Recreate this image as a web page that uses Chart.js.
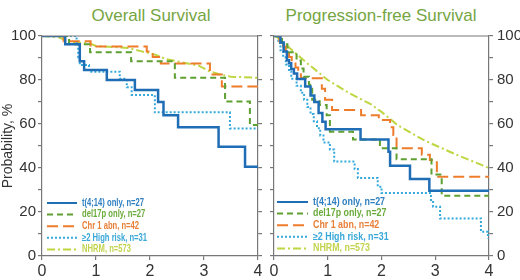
<!DOCTYPE html>
<html>
<head>
<meta charset="utf-8">
<script src="https://cdn.jsdelivr.net/npm/chart.js@4.4.1/dist/chart.umd.min.js"></script>
<style>
  html, body { margin: 0; padding: 0; background: #fff; }
  #wrap { position: relative; width: 520px; height: 280px; overflow: hidden; font-family: Arial, "Liberation Sans", sans-serif; }
  .ttl { position: absolute; top: 7px; font-size: 17px; line-height: 17px; color: #76a543; white-space: nowrap; transform: translateX(-50%); }
  #c1 { position: absolute; left: 0; top: 0; }
  #c2 { position: absolute; left: 266px; top: 0; }
</style>
</head>
<body>
<div id="wrap">
  <div class="ttl" style="left:151px">Overall Survival</div>
  <div class="ttl" style="left:381px">Progression-free Survival</div>
  <canvas id="c1" width="266" height="280" style="width:266px;height:280px"></canvas>
  <canvas id="c2" width="254" height="280" style="width:254px;height:280px"></canvas>
</div>
<script>
// series labels
const seriesLabels = ['t(4;14) only, n=27', 'del17p only, n=27', 'Chr 1 abn, n=42', '\u22652 High risk, n=31', 'NHRM, n=573'];
const xTicks = [0, 1, 2, 3, 4];
const yTicks = [0, 20, 40, 60, 80, 100];

// overall survival (years, %)
const osT414Time = [0, 0.43, 0.70, 0.78, 1.20, 1.72, 2.15, 2.25, 2.52, 3.27, 3.76, 4];
const osT414Surv = [100, 96.3, 88.5, 84.5, 80, 75.5, 70, 64, 58.5, 49.7, 40.6, 40.6];
const osDel17Time = [0, 0.50, 0.89, 1.65, 2.46, 3.39, 3.85, 4];
const osDel17Surv = [100, 96.3, 92.6, 88.5, 81, 70.2, 59.5, 59.5];
const osChr1Time = [0, 0.40, 0.90, 1.94, 2.05, 2.20, 3.11, 3.33, 4];
const osChr1Surv = [100, 97.6, 95.2, 92.9, 90.5, 87.5, 82.5, 77, 77];
const osHr2Time = [0, 0.64, 0.67, 0.70, 0.87, 1.44, 1.57, 1.66, 2.09, 3.48, 4];
const osHr2Surv = [100, 96.8, 90.3, 86.8, 83.8, 80.6, 76.7, 73.2, 65.3, 58, 58];
const osNhrmTime = [0, 0.3, 0.5, 0.9, 1.0, 1.6, 1.85, 2.1, 2.3, 2.6, 2.9, 3.1, 3.3, 3.5, 4];
const osNhrmSurv = [100, 99.5, 97.5, 96.5, 95.5, 94.5, 93, 91.5, 89.5, 88, 86.5, 84, 82.5, 81.5, 81];

// progression-free survival
const pfsT414Time = [0, 0.12, 0.18, 0.24, 0.28, 0.32, 0.37, 0.43, 0.58, 0.68, 0.75, 0.83, 0.90, 0.96, 1.61, 2.13, 2.16, 2.53, 2.89, 4];
const pfsT414Surv = [100, 97, 93, 89, 87.6, 85, 83, 80.5, 77, 73, 70, 65, 61, 57.6, 53, 47.4, 41, 35, 29.7, 29.7];
const pfsDel17Time = [0, 0.15, 0.25, 0.42, 0.50, 0.55, 0.65, 0.71, 0.85, 0.98, 1.04, 1.47, 1.97, 2.28, 2.93, 3.12, 4];
const pfsDel17Surv = [100, 96.3, 92.6, 88.9, 85.2, 81.5, 77.8, 71, 68.6, 64, 56.5, 53, 49, 44, 37, 27.4, 27.4];
const pfsChr1Time = [0, 0.10, 0.17, 0.22, 0.28, 0.33, 0.40, 0.45, 0.50, 0.89, 0.95, 1.08, 1.62, 1.95, 2.16, 2.22, 2.28, 2.75, 2.90, 3.03, 4];
const pfsChr1Surv = [100, 97.6, 95.2, 92.9, 90.5, 88.1, 85.7, 83.3, 80.8, 76, 71, 66.4, 64, 61.8, 58.5, 55, 49, 46, 43.6, 36, 36];
const pfsHr2Time = [0, 0.08, 0.12, 0.17, 0.22, 0.28, 0.32, 0.42, 0.50, 0.56, 0.62, 0.68, 0.74, 0.80, 0.86, 0.92, 1.04, 1.12, 1.50, 1.56, 1.93, 2.00, 2.92, 2.96, 3.09, 3.85, 3.98];
const pfsHr2Surv = [100, 96.8, 93.5, 90.3, 87.1, 83.9, 80.6, 77.4, 74.2, 71.0, 67.7, 64.5, 61.3, 58.1, 54.8, 51.6, 48.4, 42.9, 39.5, 35.5, 31.5, 28.6, 25.5, 22.4, 17.1, 11.0, 8.0];
const pfsNhrmTime = [0, 0.05, 0.2, 0.6, 1.0, 1.4, 1.8, 2.0, 2.3, 2.8, 3.4, 4];
const pfsNhrmSurv = [100, 99.5, 96.5, 88, 80, 74, 69, 65.5, 59.5, 52.5, 46, 40];

const lineColors = ['#1f6db5', '#5fa033', '#ee7d2b', '#35a9dc', '#bfd641'];
const textColors = ['#2f7fc1', '#6aaa3a', '#e8803a', '#38a8d8', '#c2d44e'];
const dashes = [[], [6, 4], [11, 5], [2, 2], [8, 3, 2, 3]];
const widths = [2.5, 2, 2, 2, 2];

function toPoints(times, surv) {
  return times.map((t, i) => ({ x: t, y: surv[i] }));
}

function makeDatasets(groups) {
  return groups.map((g, i) => ({
    label: seriesLabels[i],
    data: toPoints(g[0], g[1]),
    borderColor: lineColors[i],
    borderWidth: widths[i],
    borderDash: dashes[i],
    legendColor: textColors[i],
    stepped: i === 4 ? false : 'before',
    pointRadius: 0,
    fill: false,
    tension: 0
  }));
}

// legend drawn inside the plot, text coloured per series
const insideLegend = {
  id: 'insideLegend',
  afterDatasetsDraw(chart, args, opts) {
    const ctx = chart.ctx;
    const a = chart.chartArea;
    ctx.save();
    ctx.font = 'bold 10px Arial, "Liberation Sans", sans-serif';
    const squeeze = opts.firstWidth / ctx.measureText(seriesLabels[0]).width;
    chart.data.datasets.forEach((ds, i) => {
      const y = opts.top + i * opts.gap;
      const x0 = a.left + opts.lineStart;
      ctx.strokeStyle = ds.borderColor;
      ctx.lineWidth = 2;
      ctx.setLineDash(ds.borderDash);
      ctx.beginPath();
      ctx.moveTo(x0, y);
      ctx.lineTo(x0 + opts.lineLen, y);
      ctx.stroke();
      ctx.setLineDash([]);
      ctx.fillStyle = ds.legendColor;
      ctx.textBaseline = 'middle';
      const w = ctx.measureText(ds.label).width;
      ctx.fillText(ds.label, x0 + opts.lineLen + 5, y, w * squeeze);
    });
    ctx.restore();
  }
};

// top edge of the frame
const topFrame = {
  id: 'topFrame',
  afterDraw(chart) {
    const ctx = chart.ctx;
    const a = chart.chartArea;
    ctx.save();
    ctx.strokeStyle = '#777';
    ctx.lineWidth = 1.2;
    ctx.beginPath();
    ctx.moveTo(a.left, a.top);
    ctx.lineTo(a.right, a.top);
    ctx.stroke();
    ctx.restore();
  }
};

const axisColor = '#777';
const gridOpts = { drawOnChartArea: false, tickLength: 4, color: axisColor, lineWidth: 1.2 };
const borderOpts = { color: axisColor, width: 1.2 };

function yScale(position, showLabels, width, withTitle) {
  return {
    type: 'linear', position: position, min: 0, max: 100,
    ticks: {
      display: showLabels, stepSize: 10, autoSkip: false,
      callback: v => (yTicks.includes(v) ? v : ''),
      font: { size: 15 }, color: '#333', padding: position === 'left' ? 2 : 4
    },
    grid: gridOpts,
    border: borderOpts,
    title: { display: withTitle, text: 'Probability, %', font: { size: 14 }, color: '#333', padding: 0 },
    afterFit: s => { s.width = width; }
  };
}

function xScale() {
  return {
    type: 'linear', position: 'bottom', min: 0, max: 4,
    afterBuildTicks: s => { s.ticks = xTicks.map(v => ({ value: v })); },
    ticks: { font: { size: 16 }, color: '#333', padding: 2, maxRotation: 0 },
    grid: gridOpts,
    border: borderOpts,
    afterFit: s => { s.height = 24; }
  };
}

function buildChart(id, datasets, scales, legendOpts) {
  return new Chart(document.getElementById(id), {
    type: 'line',
    data: { datasets: datasets },
    options: {
      responsive: false,
      animation: false,
      layout: { padding: { top: 36, bottom: 0, left: 0, right: 0 } },
      plugins: { legend: { display: false }, tooltip: { enabled: false }, insideLegend: legendOpts },
      scales: scales
    },
    plugins: [insideLegend, topFrame]
  });
}

buildChart('c1', makeDatasets([
  [osT414Time, osT414Surv], [osDel17Time, osDel17Surv], [osChr1Time, osChr1Surv],
  [osHr2Time, osHr2Surv], [osNhrmTime, osNhrmSurv]
]), {
  x: xScale(),
  y: yScale('left', true, 42, true),
  y2: yScale('right', false, 8, false)
}, { top: 203, gap: 11.6, lineStart: 5, lineLen: 30, firstWidth: 62 });

buildChart('c2', makeDatasets([
  [pfsT414Time, pfsT414Surv], [pfsDel17Time, pfsDel17Surv], [pfsChr1Time, pfsChr1Surv],
  [pfsHr2Time, pfsHr2Surv], [pfsNhrmTime, pfsNhrmSurv]
]), {
  x: xScale(),
  y: yScale('left', false, 8, false),
  y2: yScale('right', true, 31, false)
}, { top: 202, gap: 11.6, lineStart: 3, lineLen: 31, firstWidth: 72 });
</script>
</body>
</html>
